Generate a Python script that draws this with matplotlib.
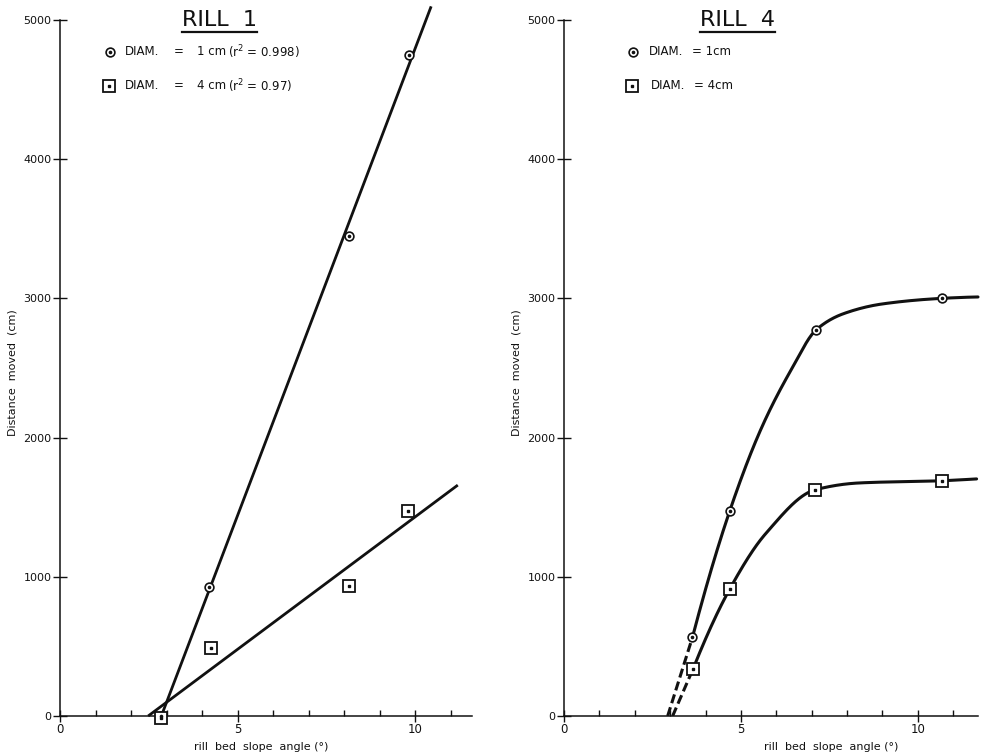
"""Two-panel scatter: distance moved vs rill bed slope angle (RILL 1, RILL 4)."""
import numpy as np
import matplotlib
matplotlib.use("Agg")
import matplotlib.pyplot as plt
from matplotlib.lines import Line2D

# ---- RILL 1 (points + least-squares lines)
R1_X_1CM = [2.85, 4.20, 8.14, 9.83]
R1_Y_1CM = [0, 930, 3450, 4750]
R1_X_4CM = [2.85, 4.25, 8.14, 9.80]
R1_Y_4CM = [-15, 485, 935, 1470]
R1_LINE_END = [10.45, 11.2]      # x where each fitted line was stopped

# ---- RILL 4 (points + hand-drawn curves)
R4_X_1CM = [3.63, 4.68, 7.13, 10.68]
R4_Y_1CM = [565, 1470, 2775, 3000]
R4_X_4CM = [3.65, 4.68, 7.10, 10.68]
R4_Y_4CM = [340, 910, 1625, 1690]
# curve knots
C1_X = [3.63, 4.68, 5.60, 6.45, 7.13, 7.90, 9.00, 10.68, 11.70]
C1_Y = [565, 1470, 2080, 2500, 2775, 2890, 2960, 3000, 3010]
C2_X = [3.65, 4.68, 5.70, 7.10, 8.34, 10.68, 11.66]
C2_Y = [340, 910, 1310, 1625, 1674, 1690, 1703]
# dashed extrapolations down to the axis
D1_X, D1_Y = [2.93, 3.63], [0, 565]
D2_X, D2_Y = [3.07, 3.65], [0, 340]

YTICKS = [0, 1000, 2000, 3000, 4000, 5000]
XTICKS = [0, 5, 10]

INK = "#111111"
plt.rcParams["font.family"] = "DejaVu Sans"


def _end_slope(h0, h1, d0, d1):
    m = ((2 * h0 + h1) * d0 - h0 * d1) / (h0 + h1)
    if np.sign(m) != np.sign(d0):
        return 0.0
    if np.sign(d0) != np.sign(d1) and abs(m) > abs(3 * d0):
        return 3 * d0
    return m


def pchip(xk, yk, n=300):
    xk = np.asarray(xk, float); yk = np.asarray(yk, float)
    h = np.diff(xk); d = np.diff(yk) / h
    m = np.zeros_like(xk)
    for i in range(1, len(xk) - 1):
        if d[i - 1] * d[i] > 0:
            w1 = 2 * h[i] + h[i - 1]; w2 = h[i] + 2 * h[i - 1]
            m[i] = (w1 + w2) / (w1 / d[i - 1] + w2 / d[i])
    m[0] = _end_slope(h[0], h[1], d[0], d[1])
    m[-1] = _end_slope(h[-1], h[-2], d[-1], d[-2])
    xs = np.linspace(xk[0], xk[-1], n)
    idx = np.clip(np.searchsorted(xk, xs) - 1, 0, len(h) - 1)
    t = (xs - xk[idx]) / h[idx]
    ys = ((2 * t**3 - 3 * t**2 + 1) * yk[idx] + (t**3 - 2 * t**2 + t) * h[idx] * m[idx]
          + (-2 * t**3 + 3 * t**2) * yk[idx + 1] + (t**3 - t**2) * h[idx] * m[idx + 1])
    return xs, ys


def circles(ax, x, y):
    ax.plot(x, y, "o", ms=6.3, mfc="white", mec=INK, mew=1.2, ls="none", zorder=5, clip_on=False)
    ax.plot(x, y, "o", ms=1.6, mfc=INK, mec=INK, ls="none", zorder=6, clip_on=False)


def squares(ax, x, y):
    ax.plot(x, y, "s", ms=8.5, mfc="white", mec=INK, mew=1.3, ls="none", zorder=5, clip_on=False)
    ax.plot(x, y, "s", ms=1.5, mfc=INK, mec=INK, ls="none", zorder=6, clip_on=False)


def style_axes(ax, xmax, xlab_x):
    ax.set_xlim(0, xmax); ax.set_ylim(0, 5100)
    ax.spines[["top", "right"]].set_visible(False)
    ax.spines["left"].set_bounds(0, 5000)
    ax.spines["bottom"].set_bounds(0, xmax)
    for s in ("left", "bottom"):
        ax.spines[s].set_linewidth(1.1); ax.spines[s].set_color(INK)
    ax.set_yticks(YTICKS)
    ax.set_yticklabels([str(v) for v in YTICKS])
    ax.set_xticks(XTICKS)
    ax.set_xticks([v for v in range(1, int(xmax) + 1) if v not in XTICKS], minor=True)
    ax.tick_params(axis="y", direction="inout", length=10, width=1.0, color=INK,
                   labelsize=8, pad=1, labelcolor=INK)
    ax.tick_params(axis="x", which="major", direction="inout", length=8, width=1.0,
                   color=INK, labelsize=8.5, pad=1, labelcolor=INK)
    ax.tick_params(axis="x", which="minor", direction="in", length=4, width=1.0, color=INK)
    ax.set_ylabel("Distance  moved  (cm)", fontsize=8, color=INK)
    ax.yaxis.set_label_coords(-0.103, 0.483)
    # x labels sit off-centre in the original
    ax.set_xlabel("rill  bed  slope  angle (°)", fontsize=8, color=INK)
    ax.xaxis.set_label_coords(xlab_x, -0.036)
    ax.patch.set_alpha(0)


fig = plt.figure(figsize=(9.82, 7.55), dpi=100)
ax1 = fig.add_axes([60 / 982, 39 / 755, 412 / 982, 710 / 755])
ax2 = fig.add_axes([564 / 982, 39 / 755, 414 / 982, 710 / 755])
style_axes(ax1, 11.6, 0.488)
style_axes(ax2, 11.7, 0.645)

# ---- RILL 1
for xs, ys, xend in ((R1_X_1CM, R1_Y_1CM, R1_LINE_END[0]), (R1_X_4CM, R1_Y_4CM, R1_LINE_END[1])):
    a, b = np.polyfit(xs, ys, 1)
    xl = np.array([-b / a, xend])
    ax1.plot(xl, a * xl + b, color=INK, lw=2.0, zorder=3, clip_on=False, solid_capstyle="butt")
circles(ax1, R1_X_1CM, R1_Y_1CM)
squares(ax1, R1_X_4CM, R1_Y_4CM)

# legend (RILL 1)
circles(ax1, [1.40], [4770])
squares(ax1, [1.38], [4526])
for yy, size, r2 in ((4770, "1 cm", "0.998"), (4526, "4 cm", "0.97")):
    ax1.text(1.84, yy, "DIAM.", fontsize=8.5, va="center", color=INK)
    ax1.text(3.20, yy, "=", fontsize=8.5, va="center", color=INK)
    ax1.text(3.87, yy, size, fontsize=8.5, va="center", color=INK)
    ax1.text(4.72, yy, "(r$^2$ = " + r2 + ")", fontsize=8.5, va="center", color=INK)

# ---- RILL 4
for cx, cy in ((C1_X, C1_Y), (C2_X, C2_Y)):
    sx, sy = pchip(cx, cy)
    ax2.plot(sx, sy, color=INK, lw=2.2, zorder=3, clip_on=False, solid_capstyle="round")
for dx, dy in ((D1_X, D1_Y), (D2_X, D2_Y)):
    ax2.plot(dx, dy, color=INK, lw=2.2, ls=(0, (3, 1.4)), zorder=3)
circles(ax2, R4_X_1CM, R4_Y_1CM)
squares(ax2, R4_X_4CM, R4_Y_4CM)

circles(ax2, [1.95], [4770])
squares(ax2, [1.93], [4526])
ax2.text(2.40, 4770, "DIAM.", fontsize=8.5, va="center", color=INK)
ax2.text(3.62, 4770, "= 1cm", fontsize=8.5, va="center", color=INK)
ax2.text(2.46, 4526, "DIAM.", fontsize=8.5, va="center", color=INK)
ax2.text(3.67, 4526, "= 4cm", fontsize=8.5, va="center", color=INK)

# underlined titles
titles = [ax1.text(4.50, 4957, "RILL  1", fontsize=16, ha="center", va="baseline", color=INK),
          ax2.text(4.89, 4957, "RILL  4", fontsize=16, ha="center", va="baseline", color=INK)]
fig.canvas.draw()
inv = fig.transFigure.inverted()
for t in titles:
    bb = t.get_window_extent().transformed(inv)
    yl = bb.y0 - 2.0 / 755
    fig.add_artist(Line2D([bb.x0, bb.x1], [yl, yl], transform=fig.transFigure,
                          color=INK, lw=1.6))

fig.savefig("out.png", dpi=100, facecolor="white")
